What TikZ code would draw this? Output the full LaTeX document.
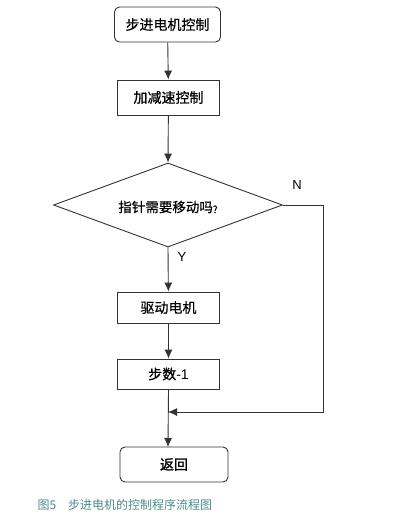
\documentclass[tikz,border=0pt]{standalone}
\usepackage{fontspec}
\setmainfont{Liberation Sans}
\newfontfamily\cjk[FakeBold=0.6]{Noto Sans CJK SC}
\newfontfamily\cjkb[FakeBold=1.6]{Noto Sans CJK SC}
\newfontfamily\cjkcap{Noto Sans CJK SC}
\usetikzlibrary{arrows.meta,shapes.geometric}
\definecolor{capcol}{HTML}{4E8A8C}
\definecolor{linecol}{HTML}{333333}
\tikzset{
  box/.style={draw=linecol, line width=0.9pt, minimum width=102pt, minimum height=33pt, inner sep=0pt, font=\cjk\fontsize{14}{16}\selectfont},
  rbox/.style={box, rounded corners=5pt, minimum height=35pt},
  flow/.style={draw=linecol, line width=0.9pt, -{Latex[length=9pt,width=8pt]}},
  lbl/.style={font=\fontsize{13}{15}\selectfont},
}
\begin{document}
\begin{tikzpicture}[x=1pt,y=-1pt]
\useasboundingbox (0,0) rectangle (400,523);
\node[rbox, minimum width=106pt] (start) at (167.5,24.5) {步进电机控制};
\node[box, minimum height=35pt] (acc) at (168.5,97.5) {加减速控制};
\node[draw=linecol, line width=0.9pt, diamond, aspect=2.72, minimum width=229pt, minimum height=84pt, inner sep=0pt] (dec) at (168,205) {};
\node[font=\cjk\fontsize{13.5}{15}\selectfont] at (168,207) {指针需要移动吗\raisebox{-1pt}{\fontsize{10}{11}\selectfont ?}};
\node[box, minimum height=31pt] (drive) at (168.5,307.5) {驱动电机};
\node[box, minimum height=30pt] (step) at (168.5,374) {步数\fontspec{Liberation Sans}-1};
\node[rbox, minimum width=108pt, font=\cjkb\fontsize{14}{16}\selectfont] (ret) at (174,464.5) {返回};
\coordinate (c1) at (323,205);
\coordinate (c2) at (323,412);
\coordinate (m) at (168,412);
\draw[flow] (start) -- (acc);
\draw[flow] (acc) -- (dec.north);
\draw[flow] (dec.south) -- (drive);
\draw[flow] (drive) -- (step);
\draw[flow] (step.south) -- (168,447);
\draw[flow] (dec.east) -- (c1) -- (c2) -- (m);
\node[lbl] at (297,185) {N};
\node[lbl] at (182,257) {Y};
\node[anchor=west, text=capcol, font=\cjkcap\fontsize{12}{14}\selectfont] (cap) at (34,505) {图5\hspace{1em}步进电机的控制程序流程图};
\end{tikzpicture}
\end{document}
